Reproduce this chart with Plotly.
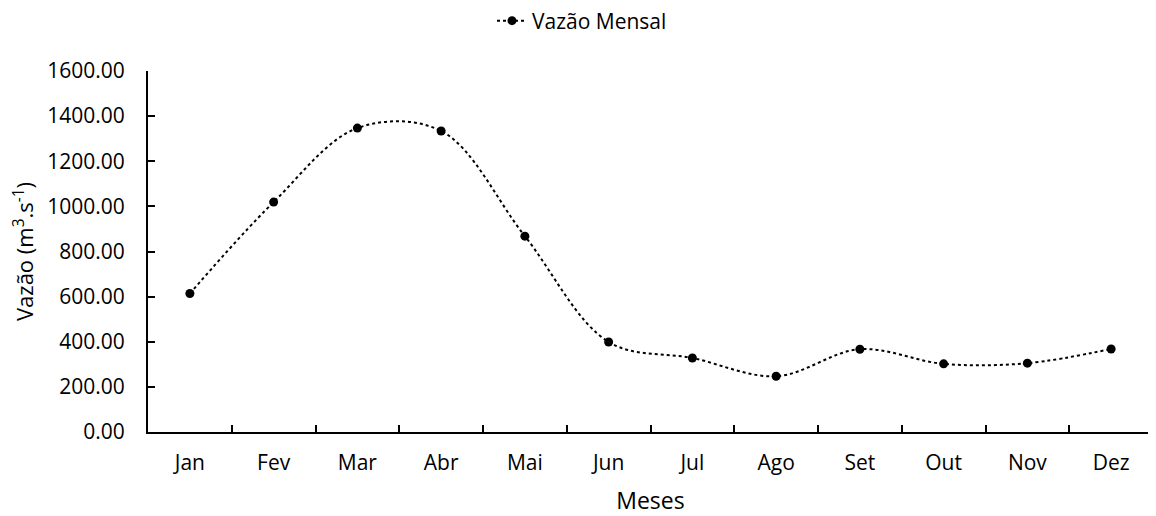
import plotly.graph_objects as go

meses = ["Jan", "Fev", "Mar", "Abr", "Mai", "Jun", "Jul", "Ago", "Set", "Out", "Nov", "Dez"]
vazao = [614, 1019, 1347, 1334, 868, 399, 328, 247, 367, 302, 305, 368]
y_ticks = [0, 200, 400, 600, 800, 1000, 1200, 1400, 1600]

FONT = "Open Sans"

fig = go.Figure()
fig.add_trace(go.Scatter(
    x=meses, y=vazao, name="Vazão Mensal", mode="lines+markers",
    line=dict(color="black", width=2, dash="dot", shape="spline", smoothing=1),
    marker=dict(color="black", size=9),
))

fig.update_layout(
    width=1148, height=508,
    margin=dict(l=140, r=3, t=63, b=84, autoexpand=False),
    paper_bgcolor="white", plot_bgcolor="white",
    font=dict(family=FONT, size=21, color="black"),
    showlegend=True,
    legend=dict(orientation="h", xref="container", yref="paper",
                x=0.5, xanchor="center", y=1.1385, yanchor="middle",
                font=dict(size=21, family=FONT)),
    xaxis=dict(
        type="category", categoryorder="array", categoryarray=meses,
        tickson="boundaries", ticks="inside", ticklen=7, tickwidth=2, tickcolor="black",
        showline=True, linecolor="black", linewidth=2, showgrid=False, zeroline=False,
        range=[-0.5, 11.5], ticklabelstandoff=11, automargin=False,
        title=dict(text="Meses", font=dict(size=23, family=FONT), standoff=28),
        tickfont=dict(size=21, family=FONT),
    ),
    yaxis=dict(
        range=[0, 1600], tickvals=y_ticks, tickformat=".2f",
        ticks="inside", ticklen=7, tickwidth=2, tickcolor="black",
        showline=True, linecolor="black", linewidth=2, showgrid=False, zeroline=False,
        ticklabelstandoff=17, automargin=False,
        title=dict(text="Vazão (m<sup>3</sup>.s<sup>-1</sup>)", font=dict(size=22, family=FONT), standoff=15),
        tickfont=dict(size=21, family=FONT),
    ),
)

fig.write_html("out.html")
